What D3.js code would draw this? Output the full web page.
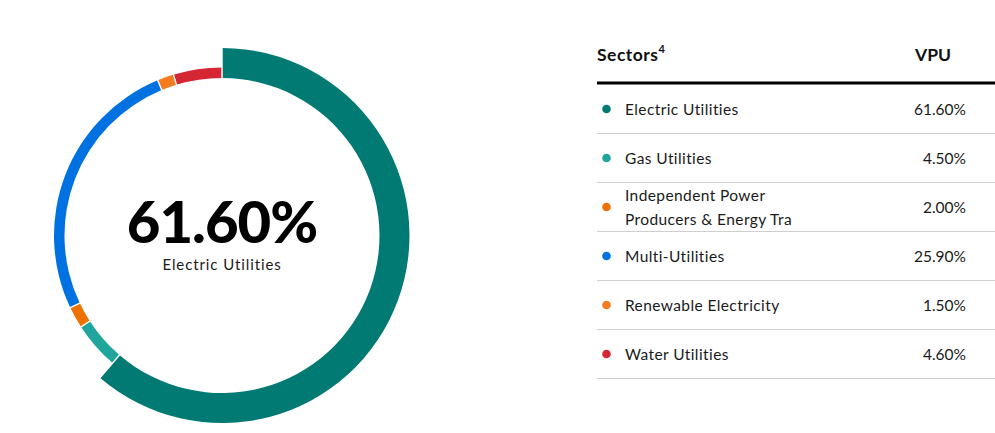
<!DOCTYPE html>
<html>
<head>
<meta charset="utf-8">
<script src="https://cdn.jsdelivr.net/npm/d3@7"></script>
<style>
  body { margin: 0; background: #fff; }
  svg { display: block; font-family: Lato, "Noto Sans", sans-serif; }
</style>
</head>
<body>
<div id="vis"></div>
<script>
// chart size
const FRAME_WIDTH = 995;
const FRAME_HEIGHT = 433;

// data
const sectors = ["Electric Utilities", "Gas Utilities", "Independent Power Producers & Energy Tra",
                 "Multi-Utilities", "Renewable Electricity", "Water Utilities"];
const values = [61.6, 4.5, 2.0, 25.9, 1.5, 4.6];
const colors = ["#007a72", "#1fa59b", "#ee7203", "#0071e0", "#f47c20", "#d52733"];
const labelLines = [["Electric Utilities"], ["Gas Utilities"], ["Independent Power", "Producers & Energy Tra"],
                    ["Multi-Utilities"], ["Renewable Electricity"], ["Water Utilities"]];

const highlight = 0;

const svg = d3.select("#vis")
  .append("svg")
    .attr("width", FRAME_WIDTH)
    .attr("height", FRAME_HEIGHT);

// donut
const CX = 222, CY = 235.5;
const R_INNER = 157.5, R_THIN = 168, R_THICK = 187.5;

const pie = d3.pie().sort(null).value(d => d).padAngle(0.006);
const arcs = pie(values);

const donut = svg.append("g").attr("transform", "translate(" + CX + "," + CY + ")");

donut.selectAll("path")
  .data(arcs)
  .enter()
  .append("path")
    .attr("d", (d, i) => d3.arc()
        .innerRadius(R_INNER)
        .outerRadius(i === highlight ? R_THICK : R_THIN)(d))
    .attr("fill", (d, i) => colors[i]);

donut.append("text")
  .attr("y", 7)
  .attr("text-anchor", "middle")
  .attr("font-size", 58)
  .attr("font-weight", 900)
  .attr("fill", "#000")
  .attr("letter-spacing", "-1px")
  .text(values[highlight].toFixed(2) + "%");

donut.append("text")
  .attr("y", 34)
  .attr("text-anchor", "middle")
  .attr("font-size", 15)
  .attr("letter-spacing", "0.9px")
  .attr("fill", "#1a1a1a")
  .text(sectors[highlight]);

// table
const TX0 = 597, TX1 = 995, VAL_X = 966;

const head = svg.append("g");
head.append("text")
  .attr("x", TX0).attr("y", 61)
  .attr("font-size", 17.5).attr("font-weight", 700).attr("fill", "#111")
  .attr("letter-spacing", "0.5px")
  .text("Sectors")
  .append("tspan")
    .attr("dy", -8).attr("font-size", 11)
    .text("4");
head.append("text")
  .attr("x", 951).attr("y", 61)
  .attr("text-anchor", "end")
  .attr("font-size", 17.5).attr("font-weight", 700).attr("fill", "#111")
  .text("VPU");
head.append("line")
  .attr("x1", TX0).attr("x2", TX1)
  .attr("y1", 83).attr("y2", 83)
  .attr("stroke", "#000").attr("stroke-width", 3);

const Y_SCALE = d3.scaleBand()
  .domain(sectors)
  .range([84.5, 378.5]);

const rows = svg.selectAll(".row")
  .data(sectors)
  .enter()
  .append("g")
    .attr("class", "row")
    .attr("transform", d => "translate(0," + Y_SCALE(d) + ")");

rows.append("line")
  .attr("x1", TX0).attr("x2", TX1)
  .attr("y1", Y_SCALE.bandwidth()).attr("y2", Y_SCALE.bandwidth())
  .attr("stroke", "#cfcfcf").attr("stroke-width", 1);

rows.append("circle")
  .attr("cx", 606.5)
  .attr("cy", Y_SCALE.bandwidth() / 2)
  .attr("r", 4.3)
  .attr("fill", (d, i) => colors[i]);

rows.append("text")
  .attr("x", 625)
  .attr("font-size", 15.5)
  .attr("letter-spacing", "0.4px")
  .attr("fill", "#1a1a1a")
  .each(function(d, i) {
    const lines = labelLines[i];
    const mid = Y_SCALE.bandwidth() / 2 + 5.5;
    lines.forEach((l, j) => {
      d3.select(this).append("tspan")
        .attr("x", 625)
        .attr("y", mid + (j - (lines.length - 1) / 2) * 24)
        .text(l);
    });
  });

rows.append("text")
  .attr("x", VAL_X)
  .attr("y", Y_SCALE.bandwidth() / 2 + 5.5)
  .attr("text-anchor", "end")
  .attr("font-size", 15.5)
  .attr("fill", "#1a1a1a")
  .text((d, i) => values[i].toFixed(2) + "%");
</script>
</body>
</html>
